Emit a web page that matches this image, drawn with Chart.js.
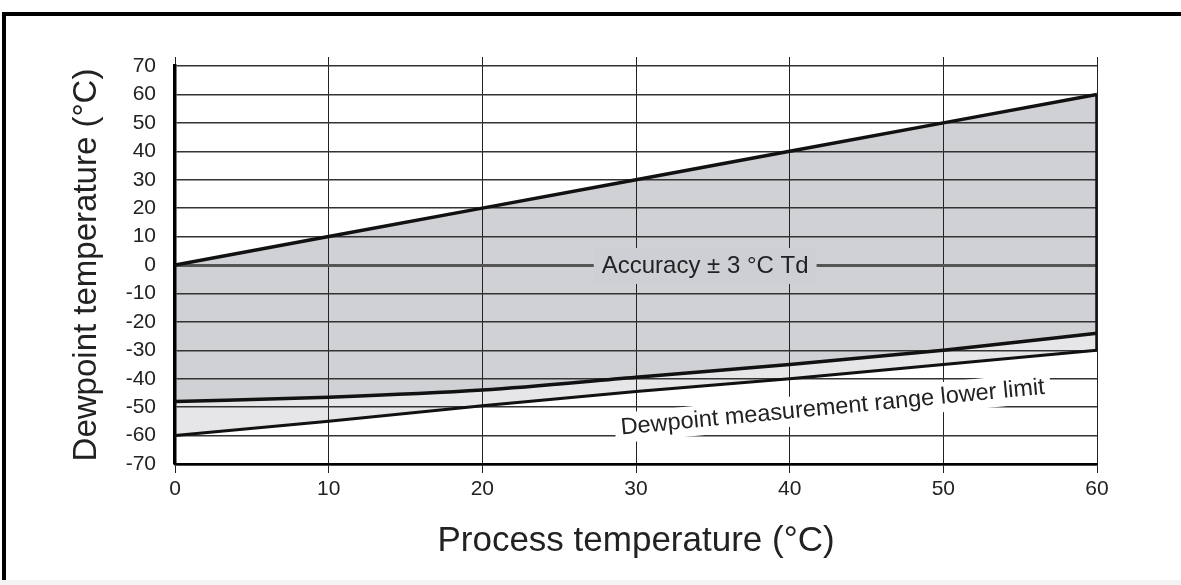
<!DOCTYPE html>
<html>
<head>
<meta charset="utf-8">
<script src="https://cdn.jsdelivr.net/npm/chart.js@4.4.1/dist/chart.umd.min.js"></script>
<style>
  html, body { margin: 0; padding: 0; background: #fff; }
  #wrap { position: relative; width: 1181px; height: 585px; overflow: hidden; }
  #frame { position: absolute; left: 2px; top: 12px; right: -10px; bottom: -10px;
           border-left: 4px solid #000; border-top: 4px solid #000; pointer-events: none; }
  #strip { position: absolute; left: 0; right: 0; bottom: 0; height: 5px; background: #f3f3f3; }
</style>
</head>
<body>
<div id="wrap">
  <canvas id="chart" width="1181" height="585"></canvas>
  <div id="frame"></div>
  <div id="strip"></div>
</div>
<script>
// values
const processTemp = [0, 10, 20, 30, 40, 50, 60];
const upperLimit = [0, 10, 20, 30, 40, 50, 60];
const accuracyLower = [-48, -46.5, -44, -39.5, -35, -30, -24];
const rangeLowerLimit = [-60, -55, -49.5, -44.5, -40, -35, -30];
const rightEdgeX = [60, 60];
const rightEdgeY = [60, -30];
const xTicks = [0, 10, 20, 30, 40, 50, 60];
const yTicks = [70, 60, 50, 40, 30, 20, 10, 0, -10, -20, -30, -40, -50, -60, -70];

const FONT = "'Liberation Sans', Arial, sans-serif";

function pts(xs, ys) {
  return xs.map((x, i) => ({ x: x, y: ys[i] }));
}

// text labels on the diagram
const labelsPlugin = {
  id: 'labels',
  afterDatasetsDraw(chart) {
    const { ctx, scales } = chart;
    const x = scales.x, y = scales.y;
    ctx.save();

    // accuracy label sitting on the 0 line
    ctx.font = '24px ' + FONT;
    const t1 = 'Accuracy ± 3 °C Td';
    const w1 = ctx.measureText(t1).width;
    const cx1 = x.getPixelForValue(34.5), cy1 = y.getPixelForValue(0);
    ctx.fillStyle = '#cdcfd4';
    ctx.fillRect(cx1 - w1 / 2 - 8, cy1 - 17, w1 + 16, 36);
    ctx.fillStyle = '#222';
    ctx.textAlign = 'center';
    ctx.textBaseline = 'middle';
    ctx.fillText(t1, cx1, cy1 + 1);

    // lower limit label, tilted along the line
    ctx.font = '23.5px ' + FONT;
    const t2 = 'Dewpoint measurement range lower limit';
    const w2 = ctx.measureText(t2).width;
    const cx2 = x.getPixelForValue(42.8), cy2 = y.getPixelForValue(-50.2);
    ctx.translate(cx2, cy2);
    ctx.rotate(-5.5 * Math.PI / 180);
    ctx.fillStyle = '#fff';
    ctx.fillRect(-w2 / 2 - 6, -15, w2 + 12, 30);
    ctx.fillStyle = '#222';
    ctx.fillText(t2, 0, 0);
    ctx.restore();
  }
};

new Chart(document.getElementById('chart'), {
  type: 'line',
  data: {
    datasets: [
      {
        label: 'upper',
        data: pts(processTemp, upperLimit),
        borderColor: '#111',
        borderWidth: 3.5,
        pointRadius: 0,
        fill: '+1',
        backgroundColor: '#cfd1d5'
      },
      {
        label: 'accuracy lower',
        data: pts(processTemp, accuracyLower),
        borderColor: '#111',
        borderWidth: 3.5,
        pointRadius: 0,
        cubicInterpolationMode: 'monotone',
        tension: 0.4,
        fill: '+1',
        backgroundColor: '#e6e6e9'
      },
      {
        label: 'range lower limit',
        data: pts(processTemp, rangeLowerLimit),
        borderColor: '#111',
        borderWidth: 3,
        pointRadius: 0,
        fill: false
      },
      {
        label: 'edge',
        data: pts(rightEdgeX, rightEdgeY),
        borderColor: '#111',
        borderWidth: 3.5,
        pointRadius: 0,
        fill: false
      }
    ]
  },
  options: {
    responsive: false,
    animation: false,
    devicePixelRatio: 1,
    layout: { padding: { left: 0, top: 57, right: 84, bottom: 0 } },
    plugins: {
      legend: { display: false },
      tooltip: { enabled: false },
      filler: { drawTime: 'beforeDraw' }
    },
    scales: {
      x: {
        type: 'linear',
        min: 0,
        max: 60,
        afterBuildTicks: s => { s.ticks = xTicks.map(v => ({ value: v })); },
        afterFit: s => { s.height = 121; },
        border: { display: true, color: '#000', width: 2.5 },
        grid: { color: '#222', lineWidth: 1, tickLength: 9, tickColor: '#222' },
        ticks: { color: '#222', font: { family: FONT, size: 21 }, padding: 4, maxRotation: 0 },
        title: {
          display: true,
          text: 'Process temperature (°C)',
          color: '#222',
          font: { family: FONT, size: 35 },
          padding: { bottom: 23 }
        }
      },
      xTop: {
        type: 'linear',
        position: 'top',
        min: 0,
        max: 60,
        afterBuildTicks: s => { s.ticks = xTicks.map(v => ({ value: v })); },
        afterFit: s => { s.height = 9; },
        border: { display: false },
        grid: { drawOnChartArea: false, tickLength: 9, color: '#222', lineWidth: 1 },
        ticks: { callback: () => '', padding: 0 }
      },
      y: {
        min: -70,
        max: 70,
        afterBuildTicks: s => { s.ticks = yTicks.map(v => ({ value: v })); },
        afterFit: s => { s.width = 175; },
        border: { color: '#000', width: 3.5 },
        grid: {
          drawTicks: false,
          color: c => c.tick.value === 0 ? '#555' : '#333',
          lineWidth: c => c.tick.value === 0 ? 3 : (c.tick.value === -70 ? 2.5 : 1.5)
        },
        ticks: { color: '#222', font: { family: FONT, size: 21 }, padding: 19 },
        title: {
          display: true,
          text: 'Dewpoint temperature (°C)',
          color: '#222',
          font: { family: FONT, size: 33 },
          padding: { top: 67 }
        }
      }
    }
  },
  plugins: [labelsPlugin]
});
</script>
</body>
</html>
